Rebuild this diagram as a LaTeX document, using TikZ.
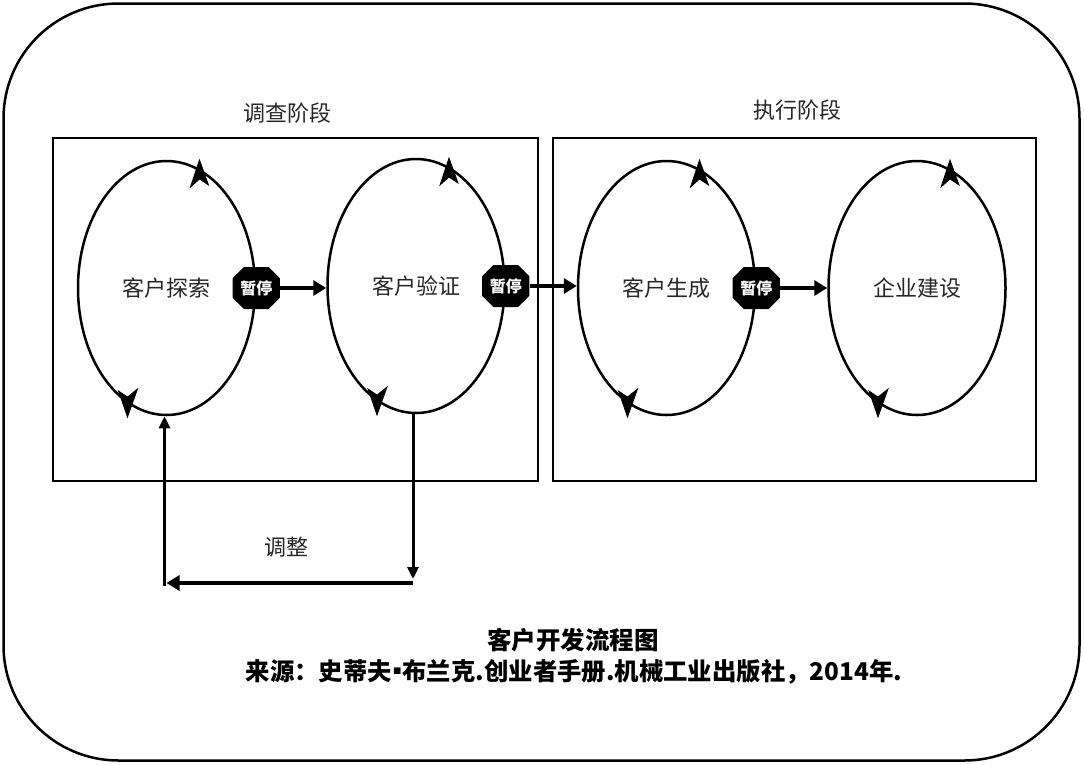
\documentclass[tikz,border=0pt]{standalone}
\usepackage{fontspec}
\setmainfont{Noto Sans CJK SC}
\usetikzlibrary{shapes.geometric,shapes.misc,arrows.meta,calc}
\tikzset{
  lbl/.style={font=\fontsize{22pt}{26pt}\selectfont, text=black!85, inner sep=0pt},
  captext/.style={font=\bfseries\fontsize{24.4pt}{28pt}\selectfont, inner sep=0pt},
  loopell/.style={ellipse, draw, line width=2.5pt, minimum width=177pt, minimum height=254pt, inner sep=0pt, font=\fontsize{22pt}{26pt}\selectfont, text=black!85},
  stagebox/.style={draw, line width=2pt, inner sep=0pt},
  pausenode/.style={chamfered rectangle, chamfered rectangle xsep=8pt, fill=black, minimum width=32pt, minimum height=42pt, inner sep=0pt, text=white, font=\bfseries\fontsize{16pt}{18pt}\selectfont},
  bigarrow/.style={line width=4.5pt, -{Triangle[length=13pt,width=15pt]}},
  fbarrow/.style={line width=3pt, -{Triangle[length=12pt,width=11pt]}},
  loophead/.style={fill=black, draw=black, line width=0.8pt, line join=miter}
}
\newcommand{\loopheads}[1]{%
  \path[loophead] ($(#1.center)+(33,128)$) -- ($(#1.center)+(42,103)$) -- ($(#1.center)+(33,109)$) -- ($(#1.center)+(24,101)$) -- cycle;
  \path[loophead] ($(#1.center)+(-39,-129)$) -- ($(#1.center)+(-48,-103)$) -- ($(#1.center)+(-39,-109)$) -- ($(#1.center)+(-29,-101)$) -- cycle;
}
\begin{document}
\begin{tikzpicture}[x=1pt,y=1pt]
\useasboundingbox (0,0) rectangle (1084,-764);
\node[draw, rounded corners=115pt, line width=2.5pt, minimum width=1076pt, minimum height=757pt, inner sep=0pt] (frame) at (541.5,-382) {};

\node[stagebox, minimum width=485pt, minimum height=343pt] (boxL) at (295.5,-309.5) {};
\node[stagebox, minimum width=483pt, minimum height=343pt] (boxR) at (794.5,-309.5) {};
\node[lbl] (tL) at (287,-113) {调查阶段};
\node[lbl] (tR) at (797,-110) {执行阶段};

\node[loopell] (e1) at (166.5,-288) {客户探索};
\node[loopell] (e2) at (416,-286) {客户验证};
\node[loopell] (e3) at (666.5,-288) {客户生成};
\node[loopell] (e4) at (917,-288) {企业建设};
\loopheads{e1}
\loopheads{e2}
\loopheads{e3}
\loopheads{e4}

\node[pausenode] (p1) at (e1.east) {暂停};
\node[pausenode] (p2) at (e2.east) {暂停};
\node[pausenode] (p3) at (e3.east) {暂停};
\draw[bigarrow] (p1.east) -- (p1.east -| e2.west);
\draw[bigarrow] (p2.east) -- (p2.east -| e3.west);
\draw[bigarrow] (p3.east) -- (p3.east -| e4.west);

\coordinate (fbR) at ($(e2.south |- 0,-579)+(-3,0)$);
\coordinate (fbRtop) at ($(e2.south)+(-3,0)$);
\coordinate (fbH) at ($(e2.south |- 0,-583)+(-3,0)$);
\coordinate (fbL) at ($(e1.south |- 0,-586)+(-2,0)$);
\coordinate (fbLtop) at ($(e1.south)+(-2,0)$);
\draw[fbarrow] (fbRtop) -- (fbR);
\draw[bigarrow] (fbH) -- ($(fbL |- fbH)+(2,0)$);
\draw[fbarrow] (fbL) -- (fbLtop);
\node[lbl] (adj) at (286,-547) {调整};

\node[captext, font=\bfseries\fontsize{24.5pt}{28pt}\selectfont] (c1) at (573,-640) {客户开发流程图};
\node[captext] (c2) at (574,-672) {来源：史蒂夫\kern-7pt▪\kern-7pt 布兰克.创业者手册.机械工业出版社，2014年.};
\end{tikzpicture}
\end{document}
